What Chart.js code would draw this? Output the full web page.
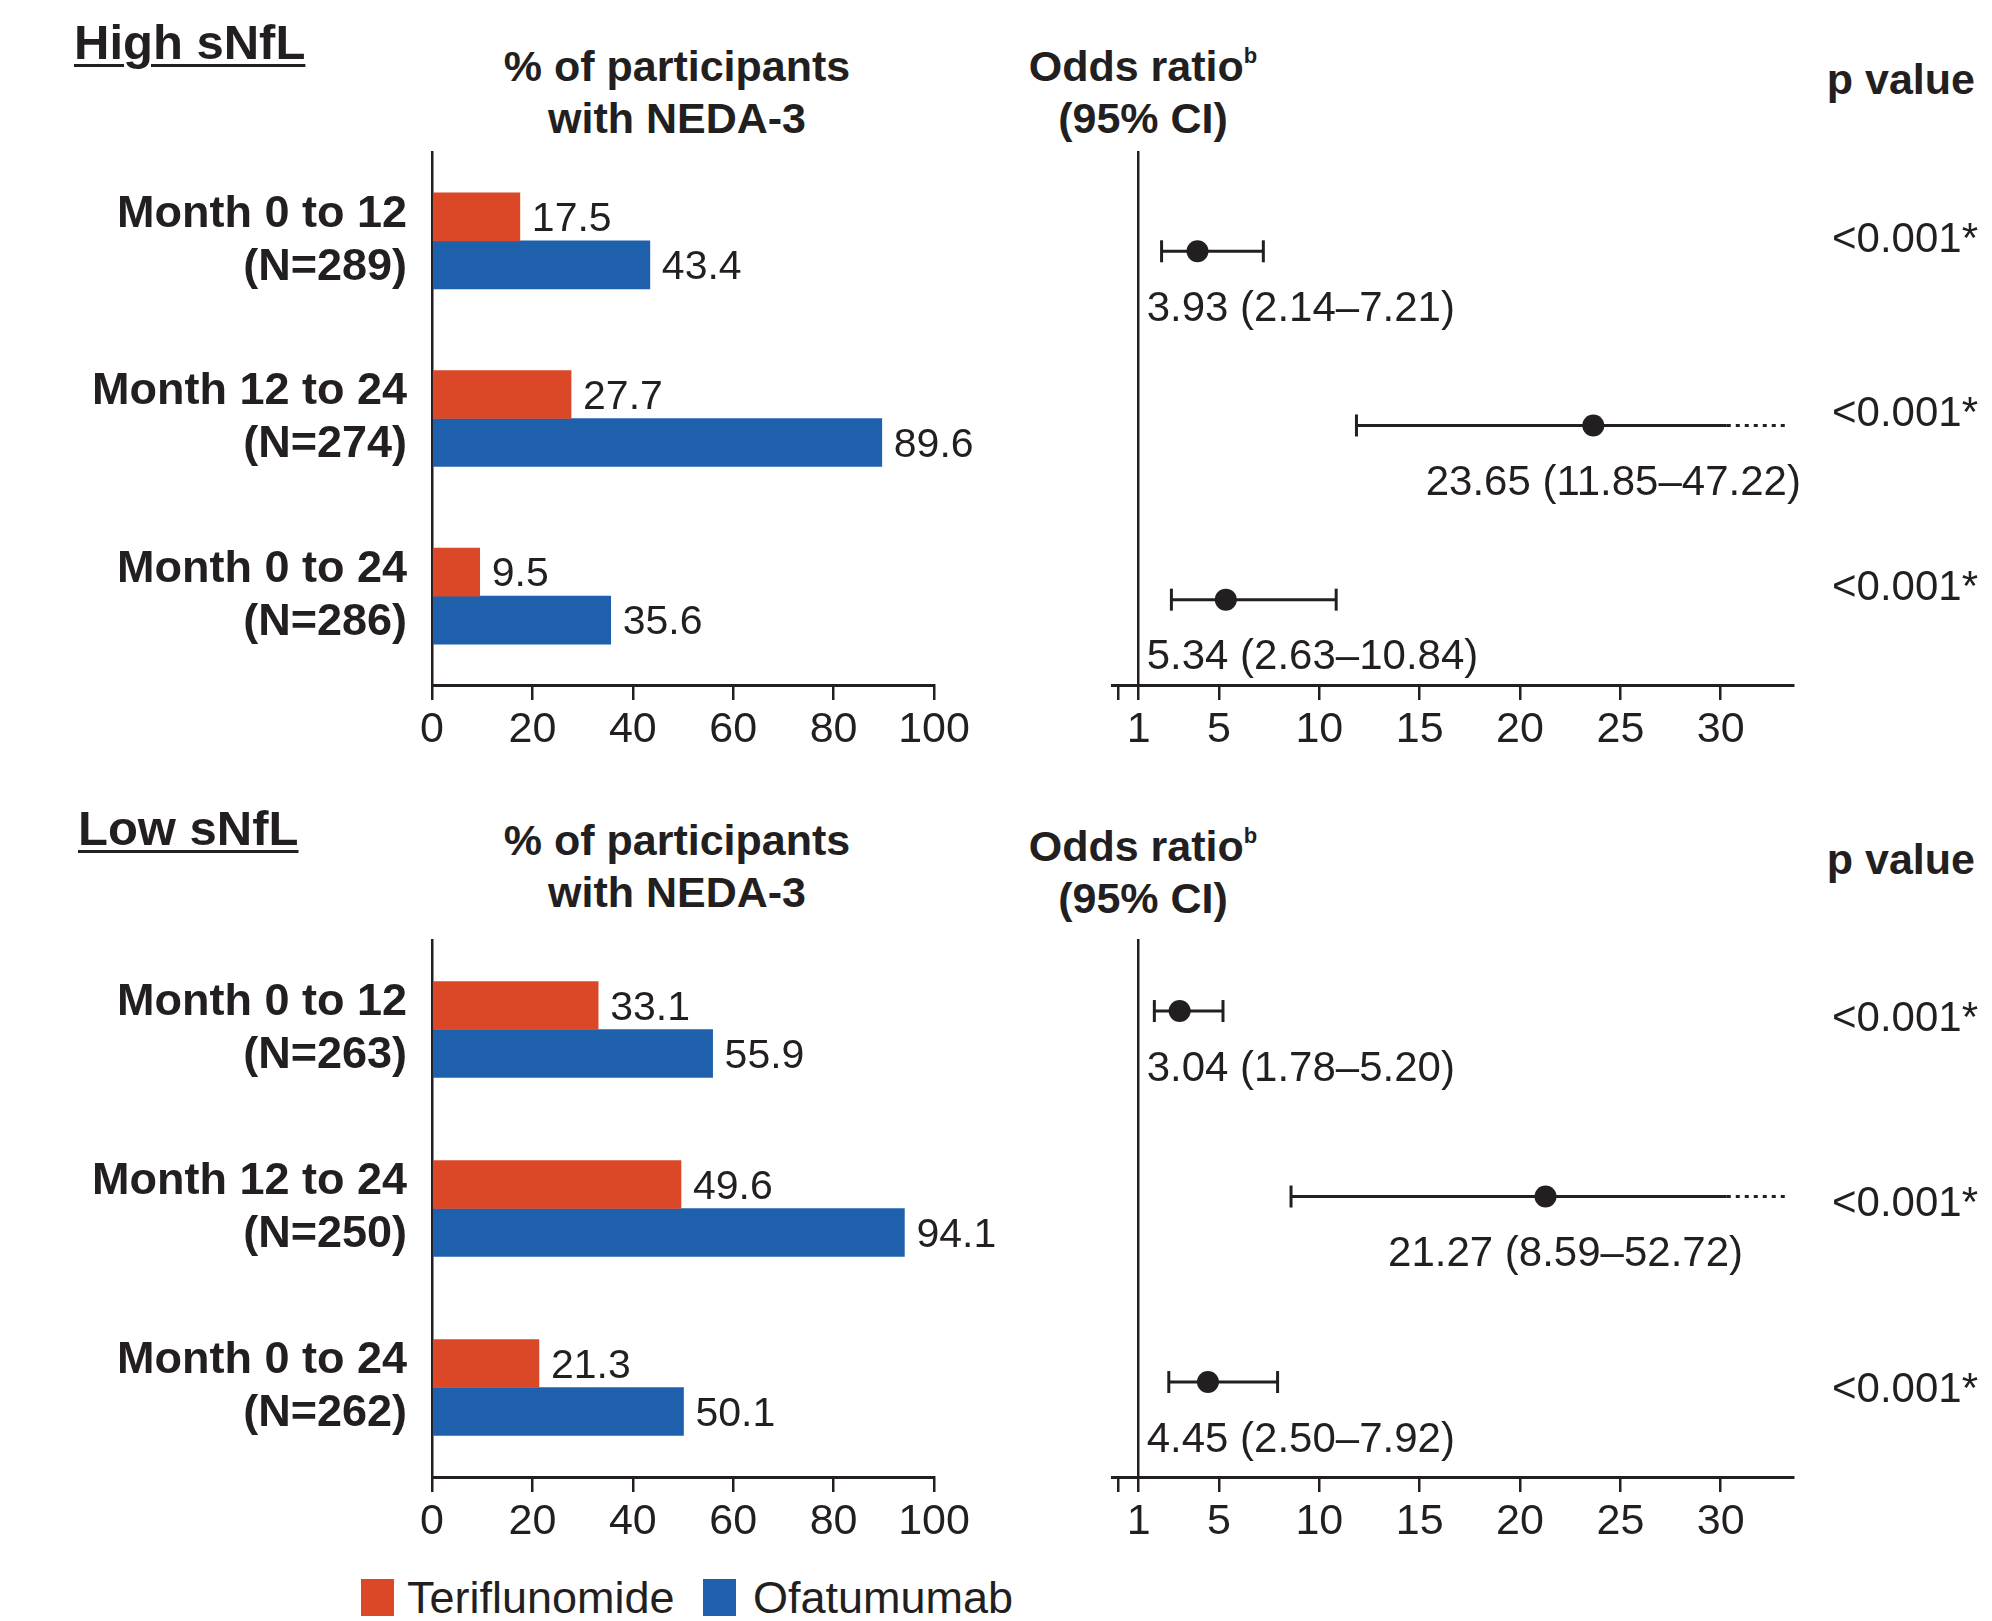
<!DOCTYPE html>
<html>
<head>
<meta charset="utf-8">
<script src="https://cdn.jsdelivr.net/npm/chart.js@4.4.1/dist/chart.umd.min.js"></script>
<style>
  body { margin: 0; background: #fff; width: 1992px; height: 1621px; position: relative; overflow: hidden;
         font-family: "Liberation Sans", Arial, sans-serif; color: #231f20; }
  canvas { position: absolute; }
  .hd { position: absolute; font-weight: bold; font-size: 43px; line-height: 52px; white-space: nowrap; text-align: center; }
  .hd sup { font-size: 22px; vertical-align: 18px; line-height: 0; }
  .panel { position: absolute; font-weight: bold; font-size: 49px; line-height: 56px; text-decoration: underline;
           text-decoration-thickness: 3px; text-underline-offset: 5px; white-space: nowrap; }
  .pv { position: absolute; right: 17px; font-weight: bold; font-size: 43px; line-height: 52px; }
  .legend { position: absolute; top: 1579px; font-size: 45px; line-height: 37px; white-space: nowrap; }
  .legend span.box { position: absolute; top: 0; width: 33px; height: 37px; }
  .legend span.lbl { position: absolute; top: 0; }
</style>
</head>
<body>

<div class="panel" style="left:74px; top:14px;">High sNfL</div>
<div class="hd" style="left:677px; top:40px; transform:translateX(-50%);">% of participants<br>with NEDA-3</div>
<div class="hd" style="left:1143px; top:40px; transform:translateX(-50%);">Odds ratio<sup>b</sup><br>(95% CI)</div>
<div class="pv" style="top:53px;">p value</div>

<div class="panel" style="left:78px; top:800px;">Low sNfL</div>
<div class="hd" style="left:677px; top:814px; transform:translateX(-50%);">% of participants<br>with NEDA-3</div>
<div class="hd" style="left:1143px; top:820px; transform:translateX(-50%);">Odds ratio<sup>b</sup><br>(95% CI)</div>
<div class="pv" style="top:833px;">p value</div>

<canvas id="bar-high" width="1010" height="780" style="left:0; top:0;"></canvas>
<canvas id="forest-high" width="982" height="780" style="left:1010px; top:0;"></canvas>
<canvas id="bar-low" width="1010" height="782" style="left:0; top:790px;"></canvas>
<canvas id="forest-low" width="982" height="782" style="left:1010px; top:790px;"></canvas>

<div class="legend" id="legend"></div>

<script>
// Data
const SERIES = ["Teriflunomide", "Ofatumumab"];

const highLabels = [["Month 0 to 12", "(N=289)"], ["Month 12 to 24", "(N=274)"], ["Month 0 to 24", "(N=286)"]];
const highTeri = [17.5, 27.7, 9.5];
const highOfa = [43.4, 89.6, 35.6];
const highOR = [3.93, 23.65, 5.34];
const highLo = [2.14, 11.85, 2.63];
const highHi = [7.21, 47.22, 10.84];
const highP = ["<0.001*", "<0.001*", "<0.001*"];

const lowLabels = [["Month 0 to 12", "(N=263)"], ["Month 12 to 24", "(N=250)"], ["Month 0 to 24", "(N=262)"]];
const lowTeri = [33.1, 49.6, 21.3];
const lowOfa = [55.9, 94.1, 50.1];
const lowOR = [3.04, 21.27, 4.45];
const lowLo = [1.78, 8.59, 2.50];
const lowHi = [5.20, 52.72, 7.92];
const lowP = ["<0.001*", "<0.001*", "<0.001*"];

const orTicks = [0, 1, 5, 10, 15, 20, 25, 30];

// Styles
const INK = "#231f20";
const RED = "#db4828";
const BLUE = "#1e60ac";
const FONT = '"Liberation Sans", Arial, sans-serif';
const CI_CUT = 30.3;     // solid CI line stops here, dotted beyond
const CI_END = 33.4;     // dotted line end
const OR_MIN = -0.33, OR_MAX = 33.6;

Chart.defaults.font.family = FONT;
Chart.defaults.color = INK;

// value labels at the end of each bar
const barValueLabels = {
  id: "barValueLabels",
  afterDatasetsDraw(chart) {
    const ctx = chart.ctx;
    ctx.save();
    ctx.font = "41px " + FONT;
    ctx.fillStyle = INK;
    ctx.textAlign = "left";
    ctx.textBaseline = "middle";
    chart.data.datasets.forEach((ds, di) => {
      chart.getDatasetMeta(di).data.forEach((bar, i) => {
        ctx.fillText(ds.data[i].toFixed(1), bar.x + 12, bar.y + 3);
      });
    });
    ctx.restore();
  },
};

// CI text under each estimate and p values on the right
const forestLabels = {
  id: "forestLabels",
  afterDatasetsDraw(chart, args, opts) {
    const { ctx } = chart;
    const xs = chart.scales.x, ys = chart.scales.y;
    const x1 = xs.getPixelForValue(1);
    ctx.save();
    ctx.font = "42px " + FONT;
    ctx.fillStyle = INK;
    ctx.textBaseline = "middle";
    opts.or.forEach((v, i) => {
      const row = ys.getPixelForValue(i + 1);
      const txt = `${v.toFixed(2)} (${opts.lo[i].toFixed(2)}–${opts.hi[i].toFixed(2)})`;
      const w = ctx.measureText(txt).width;
      const left = Math.max(xs.getPixelForValue(v) + 20 - w / 2, x1 + 8);
      ctx.textAlign = "left";
      ctx.fillText(txt, left, row + 58);
      ctx.textAlign = "right";
      ctx.fillText(opts.p[i], chart.width - 14, row + opts.pOffset);
    });
    ctx.restore();
  },
};

function barChart(id, labels, teri, ofa, topPad) {
  return new Chart(document.getElementById(id), {
    type: "bar",
    data: {
      labels: labels,
      datasets: [
        { label: SERIES[0], data: teri, backgroundColor: RED },
        { label: SERIES[1], data: ofa, backgroundColor: BLUE },
      ],
    },
    options: {
      indexAxis: "y",
      responsive: false,
      animation: false,
      events: [],
      barThickness: 48,
      layout: { padding: { top: topPad, right: 76, left: 0, bottom: 0 } },
      plugins: { legend: { display: false }, tooltip: { enabled: false } },
      scales: {
        x: {
          min: 0,
          max: 100,
          ticks: { stepSize: 20, font: { size: 43 }, padding: 4, color: INK },
          grid: { drawOnChartArea: false, drawTicks: true, tickLength: 15, color: INK, lineWidth: 2.5 },
          border: { color: INK, width: 3 },
          afterFit: (s) => { s.height = 95; },
        },
        y: {
          ticks: { font: { size: 45, weight: "bold", lineHeight: 1.18 }, padding: 25, color: INK },
          grid: { display: false, drawTicks: false },
          border: { color: INK, width: 2.5 },
          afterFit: (s) => { s.width = 432; },
        },
      },
    },
    plugins: [barValueLabels],
  });
}

function forestChart(id, or, lo, hi, p, topPad, yMin, yMax, pOffset) {
  const datasets = [];
  const caps = [];
  or.forEach((v, i) => {
    const row = i + 1;
    datasets.push({
      data: [{ x: lo[i], y: row }, { x: Math.min(hi[i], CI_CUT), y: row }],
      showLine: true, borderColor: INK, borderWidth: 3, pointRadius: 0,
    });
    caps.push({ x: lo[i], y: row });
    if (hi[i] > CI_CUT) {
      datasets.push({
        data: [{ x: CI_CUT, y: row }, { x: CI_END, y: row }],
        showLine: true, borderColor: INK, borderWidth: 3, borderDash: [4, 5], pointRadius: 0,
      });
    } else {
      caps.push({ x: hi[i], y: row });
    }
  });
  datasets.push({
    data: caps, pointStyle: "line", rotation: 90, pointRadius: 11,
    borderColor: INK, borderWidth: 3,
  });
  datasets.push({
    data: or.map((v, i) => ({ x: v, y: i + 1 })),
    pointRadius: 11, backgroundColor: INK, borderColor: INK, borderWidth: 0,
  });

  return new Chart(document.getElementById(id), {
    type: "scatter",
    data: { datasets: datasets },
    options: {
      responsive: false,
      animation: false,
      events: [],
      layout: { padding: { top: topPad, left: 102, right: 199, bottom: 0 } },
      plugins: {
        legend: { display: false },
        tooltip: { enabled: false },
        forestLabels: { or: or, lo: lo, hi: hi, p: p, pOffset: pOffset },
      },
      scales: {
        x: {
          type: "linear",
          min: OR_MIN,
          max: OR_MAX,
          afterBuildTicks: (s) => { s.ticks = orTicks.map((v) => ({ value: v })); },
          ticks: { font: { size: 43 }, padding: 4, color: INK, autoSkip: false,
                   callback: (v) => (v === 0 ? "" : v) },
          grid: { drawOnChartArea: false, drawTicks: true, tickLength: 15, color: INK, lineWidth: 2.5 },
          border: { color: INK, width: 3 },
          afterFit: (s) => { s.height = 95; },
        },
        y: {
          type: "linear",
          reverse: true,
          min: yMin,
          max: yMax,
          position: { x: 1 },
          ticks: { display: false },
          grid: { display: false, drawTicks: false },
          border: { color: INK, width: 2.5 },
        },
      },
    },
    plugins: [forestLabels],
  });
}

barChart("bar-high", highLabels, highTeri, highOfa, 152);
forestChart("forest-high", highOR, highLo, highHi, highP, 152, 0.43, 3.49, -11);
barChart("bar-low", lowLabels, lowTeri, lowOfa, 150);
forestChart("forest-low", lowOR, lowLo, lowHi, lowP, 150, 0.617, 3.512, 8);

// Legend
const legend = document.getElementById("legend");
[[361, 407, RED], [703, 753, BLUE]].forEach(([bx, tx, c], i) => {
  legend.insertAdjacentHTML("beforeend",
    `<span class="box" style="left:${bx}px; background:${c};"></span>` +
    `<span class="lbl" style="left:${tx}px;">${SERIES[i]}</span>`);
});
</script>
</body>
</html>
